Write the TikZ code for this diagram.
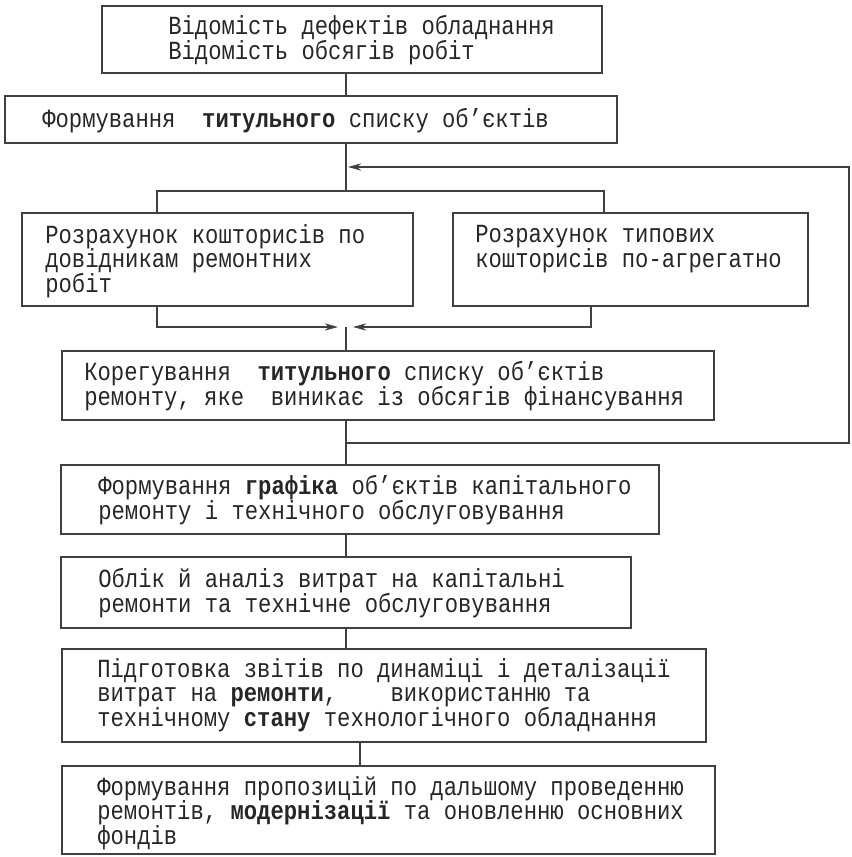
\documentclass[tikz,border=0pt]{standalone}
\usepackage{fontspec}
\usetikzlibrary{calc,arrows.meta}
\newfontfamily\boxfont[FakeStretch=0.85]{Liberation Mono}
\newcommand\boxtext{\boxfont\fontsize{19.6pt}{18.4pt}\selectfont\lineskiplimit=-10pt\relax}
\newcommand\pxu{0.75pt}

\begin{document}
\begin{tikzpicture}[x=0.75pt,y=-0.75pt,
    box/.style={draw=black!75, line width=1.1pt, inner sep=0pt},
    txt/.style={anchor=west, align=left, inner sep=0pt, text=black!85, font=\boxtext},
    link/.style={draw=black!75, line width=1.1pt},
    arr/.style={link, -{Stealth[length=10pt,width=5.5pt]}}]
  \useasboundingbox (0,0) rectangle (851,857);

  %%%%% BOXES %%%%%
  \node[box, minimum width=500*\pxu, minimum height=67*\pxu] (b1) at (352,39.5) {};
  \node[box, minimum width=612*\pxu, minimum height=47*\pxu] (b2) at (311,119.5) {};
  \node[box, minimum width=391*\pxu, minimum height=93*\pxu] (b3) at (217.5,259.5) {};
  \node[box, minimum width=355*\pxu, minimum height=93*\pxu] (b4) at (630.5,259.5) {};
  \node[box, minimum width=652*\pxu, minimum height=69*\pxu] (b5) at (388,385.5) {};
  \node[box, minimum width=598*\pxu, minimum height=69*\pxu] (b6) at (360,499.5) {};
  \node[box, minimum width=570*\pxu, minimum height=71*\pxu] (b7) at (346,592.5) {};
  \node[box, minimum width=644*\pxu, minimum height=93*\pxu] (b8) at (384,695.5) {};
  \node[box, minimum width=653*\pxu, minimum height=88*\pxu] (b9) at (388.5,810) {};

  %%%%% TEXTS %%%%%
  \node[txt] (t1) at (168,40) {Відомість дефектів обладнання\\Відомість обсягів робіт};
  \node[txt] (t2) at (42,121) {Формування~~\textbf{титульного} списку об’єктів};
  \node[txt] (t3) at (45,261) {Розрахунок кошторисів по\\довідникам ремонтних\\робіт};
  \node[txt] (t4) at (475,249) {Розрахунок типових\\кошторисів по-агрегатно};
  \node[txt] (t5) at (84,386) {Корегування~~\textbf{титульного} списку об’єктів\\ремонту, яке~~виникає із обсягів фінансування};
  \node[txt] (t6) at (98,500) {Формування \textbf{графіка} об’єктів капітального\\ремонту і технічного обслуговування};
  \node[txt] (t7) at (98,593) {Облік й аналіз витрат на капітальні\\ремонти та технічне обслуговування};
  \node[txt] (t8) at (97,695) {Підготовка звітів по динаміці і деталізації\\витрат на \textbf{ремонти},~~~~використанню та\\технічному \textbf{стану} технологічного обладнання};
  \node[txt] (t9) at (97,813) {Формування пропозицій по дальшому проведенню\\ремонтів, \textbf{модернізації} та оновленню основних\\фондів};

  %%%%% LINKS %%%%%
  \coordinate (spine) at (346,0);
  \coordinate (tail) at (360,0);
  \draw[link] (b1.south -| spine) -- (b2.north -| spine);

  \coordinate (forkL) at (157,191);
  \coordinate (forkR) at (604,191);
  \draw[link] (b2.south -| spine) -- (spine |- forkL);
  \draw[link] (b3.north -| forkL) -- (forkL) -- (forkR) -- (b4.north -| forkR);

  \coordinate (joinL) at (157,327);
  \coordinate (joinR) at (591,327);
  \coordinate (join) at (346,327);
  \draw[arr] (b3.south -| joinL) -- (joinL) -- ($(join)+(-8,0)$);
  \draw[arr] (b4.south -| joinR) -- (joinR) -- ($(join)+(7,0)$);
  \draw[link] (join) -- (b5.north -| join);

  \draw[link] (b5.south -| spine) -- (b6.north -| spine);
  \coordinate (loopB) at (346,443);
  \coordinate (loopR) at (849,443);
  \coordinate (loopT) at (849,167);
  \coordinate (loopE) at (346,167);
  \draw[arr] (loopB) -- (loopR) -- (loopT) -- ($(loopE)+(2,0)$);

  \draw[link] (b6.south -| spine) -- (b7.north -| spine);
  \draw[link] (b7.south -| spine) -- (b8.north -| spine);
  \draw[link] (b8.south -| tail) -- (b9.north -| tail);
\end{tikzpicture}
\end{document}
